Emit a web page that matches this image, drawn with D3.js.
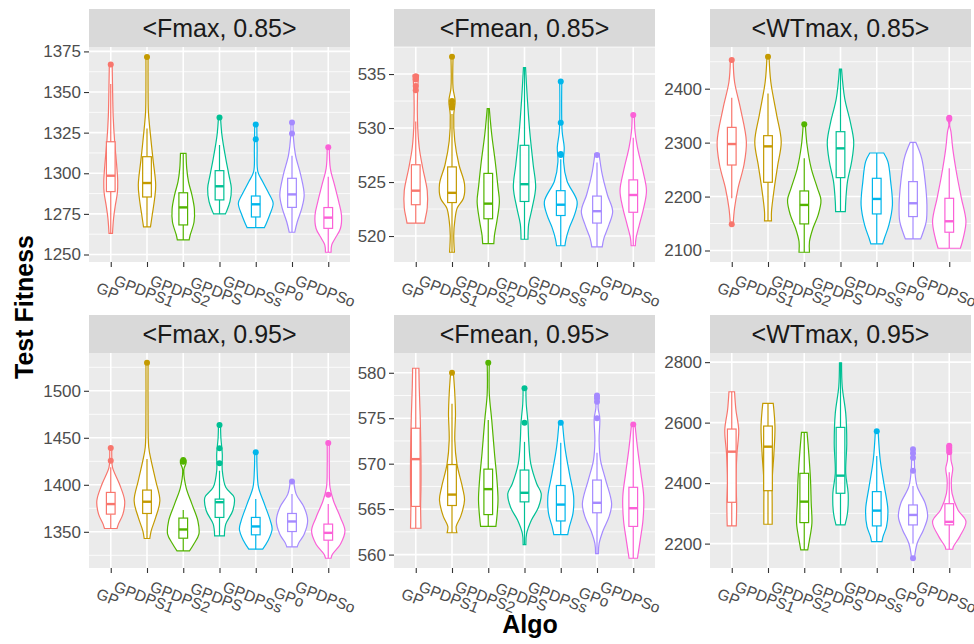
<!DOCTYPE html>
<html lang="en">
<head>
<meta charset="UTF-8">
<title>Test Fitness by Algo</title>
<script src="https://cdn.jsdelivr.net/npm/d3@7"></script>
<style>
    body { margin: 0; background: #fff; }
    svg text { font-family: "Liberation Sans", Arial, Helvetica, sans-serif; }
</style>
</head>
<body>
<div id="chart"></div>
<script>
// ---- data ----
var algos = ["GP", "GPDPS1", "GPDPS2", "GPDPS", "GPDPSs", "GPo", "GPDPSo"];
var colors = ["#F8766D", "#C49A00", "#53B400", "#00C094", "#00B6EB", "#A58AFF", "#FB61D7"];
var facetTitles = ["<Fmax, 0.85>", "<Fmean, 0.85>", "<WTmax, 0.85>",
                   "<Fmax, 0.95>", "<Fmean, 0.95>", "<WTmax, 0.95>"];
var yTicks = [
    [1250, 1275, 1300, 1325, 1350, 1375],
    [520, 525, 530, 535],
    [2100, 2200, 2300, 2400],
    [1350, 1400, 1450, 1500],
    [560, 565, 570, 575, 580],
    [2200, 2400, 2600, 2800]
];

// violin outlines: [value, relative density] from bottom to top
var fmax85Violin = [
    [[1263,5],[1272,8],[1280,13],[1288,19],[1295,20],[1305,17],[1320,11],[1335,7],[1355,5],[1367.6,4]],
    [[1267,10],[1274.3,15],[1284.6,22],[1292.8,25],[1309,17],[1327.6,8],[1338,4],[1355,3],[1371.7,3]],
    [[1259,17],[1262,20],[1270,31],[1278,32],[1286.6,25],[1294.8,15],[1303,10],[1312.3,8]],
    [[1275,17],[1276.4,20],[1282.5,30],[1290.7,34],[1299,27],[1309,18],[1323.5,7],[1334.4,3]],
    [[1266.6,25],[1268,28],[1274.3,40],[1281.5,50],[1286.6,40],[1294.8,20],[1301,6],[1315,4],[1330,3]],
    [[1263.7,8],[1270,15],[1278.4,28],[1286.6,35],[1299,25],[1311.2,10],[1322,4],[1331.3,3]],
    [[1251.4,8],[1255.9,10],[1260,20],[1266,35],[1274.3,38],[1282.5,30],[1292.8,18],[1303,6],[1316,3]]
];
// boxes: [lower whisker, q1, median, q3, upper whisker]
var fmax85Box = [
    [1263, 1288.7, 1298.5, 1319.4, 1355],
    [1267, 1285.4, 1294, 1310.2, 1327.6],
    [1259, 1268.2, 1279, 1288, 1312],
    [1275, 1283.6, 1292, 1301.6, 1317.4],
    [1266.6, 1273.1, 1280.9, 1286, 1301],
    [1263.7, 1279, 1287, 1296.9, 1310.8],
    [1251.4, 1266.1, 1272.7, 1278.9, 1297.9]
];
var fmax85Out = [[1367], [1371.5], [], [1334.4], [1320.9, 1330], [1324.5, 1331.3], [1316]];

var fmean85Violin = [
    [[521.2,25],[521.7,28],[522.6,33],[524.2,33],[526.3,20],[528.2,10],[530.6,5],[533.1,5],[534.9,8]],
    [[518.5,7],[520.1,5],[521.4,8],[522.6,15],[523.5,33],[524.8,36],[526.6,20],[528.8,8],[531.2,5],[532.5,9],[533.7,3],[536.6,3]],
    [[519.3,16],[520.1,18],[521.4,25],[523.2,32],[524.5,28],[526.9,20],[529.4,10],[531.8,3]],
    [[519.7,10],[521.1,12],[522.6,22],[524.5,32],[526.6,25],[529.7,15],[532.8,8],[535.6,3]],
    [[519.1,12],[519.7,15],[520.8,25],[522,40],[523.2,47],[525.1,18],[526.9,8],[528.2,10],[529.7,4],[534.3,3]],
    [[519,15],[519.8,20],[521.1,35],[522.3,45],[523.8,30],[525.7,15],[527.6,6]],
    [[519.1,6],[519.8,8],[521.1,18],[522.6,30],[524.2,38],[526,28],[528.2,12],[529.7,5],[531.2,3]]
];
var fmean85Box = [
    [521.2, 522.9, 524.2, 526.6, 530.6],
    [518.5, 523.1, 524.0, 526.4, 531.3],
    [519.3, 521.6, 523.0, 525.8, 531.8],
    [519.7, 523.2, 524.8, 528.4, 535.6],
    [519.1, 521.9, 522.9, 524.2, 527.1],
    [519.0, 521.2, 522.3, 523.7, 526.8],
    [519.1, 522.2, 523.8, 525.2, 529.1]
];
var fmean85Out = [[533.5, 533.9, 534.5, 534.8], [531.9, 532.2, 532.5, 536.6], [], [],
                  [527.5, 527.6, 530.5, 534.3], [527.5], [531.2]];

var wtmax85Violin = [
    [[2148.7,4],[2178.3,8],[2215.3,18],[2258.5,35],[2301.8,42],[2363.5,25],[2412.9,8],[2453,4]],
    [[2154.8,10],[2172,10],[2215.3,18],[2258.5,28],[2301.8,38],[2351.1,25],[2412.9,8],[2459.2,3]],
    [[2096.8,15],[2116.6,15],[2141.3,25],[2166,40],[2193.7,48],[2215.3,38],[2252.4,20],[2295.6,8],[2333.9,3]],
    [[2172.1,14],[2190.6,15],[2227.7,20],[2264.7,32],[2301.8,38],[2338.8,28],[2382,12],[2436.3,3]],
    [[2112.3,17],[2122.7,22],[2147.4,35],[2184.5,45],[2227.7,40],[2264.7,32],[2280.8,20]],
    [[2121.5,22],[2132,28],[2153.6,38],[2184.5,40],[2227.7,35],[2270.9,25],[2300.5,8]],
    [[2104.2,32],[2122.7,40],[2153.6,48],[2196.8,35],[2240,22],[2289.4,10],[2320,5],[2333,1],[2346.2,5]]
];
var wtmax85Box = [
    [2196.8, 2258.5, 2297.4, 2328.3, 2383.2],
    [2154.8, 2226.5, 2293.1, 2312.9, 2391.3],
    [2096.8, 2149.3, 2184.5, 2210.4, 2270.9],
    [2172.1, 2235.1, 2289.4, 2320.3, 2436.3],
    [2112.3, 2167.8, 2195.6, 2233.9, 2280.8],
    [2121.5, 2162.9, 2187.6, 2227.7, 2300.5],
    [2104.2, 2133.9, 2154.2, 2196.8, 2252.4]
];
var wtmax85Out = [[2148.7, 2453], [2459.2], [2333.9], [], [], [], [2344, 2346.2]];

var fmax95Violin = [
    [[1353.5,18],[1358.2,22],[1368.8,35],[1383,40],[1400.8,25],[1418.6,5],[1430,3],[1439.2,3]],
    [[1342.9,8],[1351,12],[1365.3,25],[1383,37],[1404.4,25],[1425.7,12],[1439.9,5],[1480,3],[1529.8,3]],
    [[1329.7,18],[1336.8,30],[1347.5,45],[1361.7,42],[1379.5,25],[1397.3,8],[1416.8,2],[1423,8],[1426.4,8]],
    [[1345.7,14],[1358.2,18],[1372.4,38],[1386.6,42],[1397.3,18],[1415,8],[1432.8,8],[1450,4],[1463.7,3]],
    [[1331.5,20],[1340.4,35],[1352.8,47],[1361.7,42],[1379.5,25],[1397.3,8],[1415,4],[1434.6,3]],
    [[1334,15],[1338.6,20],[1347.5,35],[1361.7,45],[1375.9,35],[1390.1,12],[1403.6,5]],
    [[1321.9,8],[1326.2,12],[1336.8,35],[1351,48],[1365.3,35],[1383,15],[1397.3,5],[1420,3],[1444.5,3]]
];
var fmax95Box = [
    [1353.5, 1368.8, 1379.5, 1391.9, 1418.6],
    [1342.9, 1369.5, 1382, 1394.4, 1427.5],
    [1329.7, 1343.2, 1352.5, 1364.6, 1373.1],
    [1345.7, 1365.3, 1381.5, 1384.8, 1415],
    [1331.5, 1346.8, 1355.7, 1365.3, 1384.8],
    [1334, 1350.3, 1361, 1369.5, 1390.1],
    [1321.9, 1341.1, 1348.9, 1358.2, 1379.5]
];
var fmax95Out = [[1425.7, 1439.2], [1529.8], [1424.5, 1426.4], [1422.8, 1438.8, 1463.7],
                 [1434.6], [1403.6], [1389.4, 1444.5]];

var fmean95Violin = [
    [[562.9,15],[565.3,14],[567.4,15],[570.4,15],[574.8,13],[578.4,10],[580.5,9]],
    [[562.4,14],[563.1,12],[564.2,25],[566,36],[567.4,30],[570,14],[572.6,8],[575.5,10],[577.7,8],[580,4]],
    [[563.1,22],[564.2,25],[566,28],[568.2,25],[571.1,18],[574.8,10],[577.7,3],[581.1,3]],
    [[561.1,4],[562.3,6],[563.8,20],[565.2,40],[566.7,48],[567.8,35],[570,18],[572.6,12],[574.5,10],[576.6,5],[578.3,4]],
    [[562.2,20],[563.1,25],[564.5,35],[566.4,37],[568.9,25],[571.8,12],[574.5,5]],
    [[560.1,4],[561.2,6],[562.7,18],[564.2,35],[565.6,42],[568.2,25],[570.4,10],[572.6,6],[575,8],[576.2,3],[577.5,6]],
    [[559.6,12],[561.6,20],[563.8,28],[566.4,30],[568.9,22],[571.8,12],[574.3,5]]
];
var fmean95Box = [
    [562.9, 565.3, 570.5, 573.9, 580.5],
    [562.4, 565.4, 566.6, 569.9, 576.6],
    [563.1, 564.4, 567.2, 569.4, 574.8],
    [561.1, 565.8, 566.8, 569.3, 572.4],
    [562.2, 563.7, 565.5, 567.6, 572.3],
    [560.1, 564.6, 565.7, 568.2, 571.2],
    [559.6, 563.1, 565.1, 567.4, 574.0]
];
var fmean95Out = [[], [580], [581.1], [574.5, 578.3], [574.5], [575, 576.8, 577.2, 577.5], [574.3]];

var wtmax95Violin = [
    [[2258.5,13],[2333.3,14],[2410.4,12],[2498.4,15],[2575.5,20],[2641.6,12],[2702.1,8]],
    [[2264,12],[2333.3,12],[2410.4,12],[2498.4,17],[2586.5,20],[2663.6,15]],
    [[2179.2,10],[2212.2,15],[2267.3,22],[2333.3,20],[2410.4,18],[2498.4,13],[2567.8,8]],
    [[2261.8,13],[2300.3,20],[2366.4,22],[2432.4,15],[2531.5,18],[2630.6,15],[2718.6,5],[2797.9,3]],
    [[2206.7,15],[2223.2,18],[2256.3,28],[2311.3,32],[2388.4,22],[2476.4,10],[2571.1,4]],
    [[2151.7,4],[2201.2,12],[2245.3,30],[2289.3,42],[2333.3,35],[2388.4,12],[2443.4,5],[2480,4],[2511.7,5]],
    [[2181.4,10],[2190.2,12],[2223.2,30],[2272.8,48],[2311.3,25],[2366.4,8],[2410.4,6],[2448.9,10],[2476.4,5],[2523.8,6]]
];
var wtmax95Box = [
    [2258.5, 2336.6, 2504, 2578.8, 2702.1],
    [2264, 2375, 2520.5, 2588.7, 2663.6],
    [2179.2, 2269.5, 2338.8, 2432.4, 2567.8],
    [2261.8, 2366.4, 2424.7, 2584.3, 2797.9],
    [2206.7, 2258.5, 2309.1, 2371.9, 2489.6],
    [2200, 2261.8, 2294.8, 2327.8, 2390.6],
    [2181.4, 2262, 2272, 2332, 2435.7]
];
var wtmax95Out = [[], [], [], [], [2571.1], [2151.7, 2441.2, 2484.1, 2498.4, 2511.7],
                  [2501.8, 2509.5, 2517.2, 2523.8]];

var facets = [
    {violin: fmax85Violin, box: fmax85Box, out: fmax85Out},
    {violin: fmean85Violin, box: fmean85Box, out: fmean85Out},
    {violin: wtmax85Violin, box: wtmax85Box, out: wtmax85Out},
    {violin: fmax95Violin, box: fmax95Box, out: fmax95Out},
    {violin: fmean95Violin, box: fmean95Box, out: fmean95Out},
    {violin: wtmax95Violin, box: wtmax95Box, out: wtmax95Out}
];

// ---- layout ----
var width = 974, height = 644;
var colX = [89, 394, 710], rowY = [9, 315];
var panelW = 261, panelH = 215, stripH = 38;

var svg = d3.select("#chart").append("svg")
    .attr("width", width).attr("height", height);

var x = d3.scalePoint().domain(algos).range([0, panelW]).padding(0.6);
var step = x.step();
var wScale = d3.scaleLinear().domain([0, 50]).range([0, 0.48 * step]);
var boxHalf = 0.12 * step;

facets.forEach(function (f, i) {
    var col = i % 3, row = Math.floor(i / 3);
    var px = colX[col], sy = rowY[row], py = sy + stripH;

    // strip
    svg.append("rect").attr("x", px).attr("y", sy)
        .attr("width", panelW).attr("height", stripH).attr("fill", "#D9D9D9");
    svg.append("text").attr("x", px + panelW / 2).attr("y", sy + stripH / 2)
        .attr("dy", "0.36em").attr("text-anchor", "middle")
        .attr("font-size", 25).attr("fill", "#1A1A1A")
        .text(facetTitles[i]);

    var g = svg.append("g").attr("transform", "translate(" + px + "," + py + ")");
    g.append("rect").attr("width", panelW).attr("height", panelH).attr("fill", "#EBEBEB");

    // y scale from data extent, 5% expansion
    var vals = [];
    f.violin.forEach(function (v) { v.forEach(function (d) { vals.push(d[0]); }); });
    f.out.forEach(function (o) { vals = vals.concat(o); });
    var ext = d3.extent(vals), pad = (ext[1] - ext[0]) * 0.05;
    var y = d3.scaleLinear().domain([ext[0] - pad, ext[1] + pad]).range([panelH, 0]);
    var dom = y.domain();

    var ticks = yTicks[i];
    var tstep = ticks[1] - ticks[0];
    var minor = d3.range(ticks[0] - tstep / 2, ticks[ticks.length - 1] + tstep, tstep)
        .filter(function (v) { return v >= dom[0] && v <= dom[1]; });

    g.selectAll(".minor").data(minor).enter().append("line")
        .attr("x1", 0).attr("x2", panelW)
        .attr("y1", function (d) { return y(d); }).attr("y2", function (d) { return y(d); })
        .attr("stroke", "#fff").attr("stroke-width", 0.8);
    g.selectAll(".major").data(ticks).enter().append("line")
        .attr("x1", 0).attr("x2", panelW)
        .attr("y1", function (d) { return y(d); }).attr("y2", function (d) { return y(d); })
        .attr("stroke", "#fff").attr("stroke-width", 1.6);
    g.selectAll(".vgrid").data(algos).enter().append("line")
        .attr("x1", function (d) { return x(d); }).attr("x2", function (d) { return x(d); })
        .attr("y1", 0).attr("y2", panelH)
        .attr("stroke", "#fff").attr("stroke-width", 1.6);

    // violins
    f.violin.forEach(function (v, k) {
        var cx = x(algos[k]);
        var area = d3.area()
            .y(function (d) { return y(d[0]); })
            .x0(function (d) { return cx - wScale(d[1]); })
            .x1(function (d) { return cx + wScale(d[1]); })
            .curve(d3.curveCatmullRom.alpha(0.5));
        g.append("path").attr("d", area(v))
            .attr("fill", "#fff").attr("stroke", colors[k]).attr("stroke-width", 1.2);
    });

    // boxplots
    f.box.forEach(function (b, k) {
        var cx = x(algos[k]), c = colors[k];
        g.append("line").attr("x1", cx).attr("x2", cx)
            .attr("y1", y(b[3])).attr("y2", y(b[4]))
            .attr("stroke", c).attr("stroke-width", 1.2);
        g.append("line").attr("x1", cx).attr("x2", cx)
            .attr("y1", y(b[1])).attr("y2", y(b[0]))
            .attr("stroke", c).attr("stroke-width", 1.2);
        g.append("rect").attr("x", cx - boxHalf).attr("width", 2 * boxHalf)
            .attr("y", y(b[3])).attr("height", y(b[1]) - y(b[3]))
            .attr("fill", "#fff").attr("stroke", c).attr("stroke-width", 1.2);
        g.append("line").attr("x1", cx - boxHalf).attr("x2", cx + boxHalf)
            .attr("y1", y(b[2])).attr("y2", y(b[2]))
            .attr("stroke", c).attr("stroke-width", 2.4);
        g.selectAll(null).data(f.out[k]).enter().append("circle")
            .attr("cx", cx).attr("cy", function (d) { return y(d); })
            .attr("r", 3).attr("fill", c);
    });

    // axes
    var ya = g.append("g").call(d3.axisLeft(y).tickValues(ticks)
        .tickFormat(d3.format("d")).tickSize(5).tickPadding(3));
    ya.select(".domain").remove();
    ya.selectAll("line").attr("stroke", "#333").attr("stroke-width", 1.1);
    ya.selectAll("text").attr("font-size", 17).attr("fill", "#4D4D4D")
        .attr("font-family", null);

    var xa = g.append("g").attr("transform", "translate(0," + panelH + ")")
        .call(d3.axisBottom(x).tickSize(5));
    xa.select(".domain").remove();
    xa.selectAll("line").attr("stroke", "#333").attr("stroke-width", 1.1);
    xa.selectAll("text").attr("font-size", 15.5).attr("fill", "#4D4D4D")
        .attr("font-family", null)
        .attr("y", 0).attr("dy", "0.35em").attr("text-anchor", "middle")
        .attr("transform", "translate(-3.5,29) rotate(21)");
});

// axis titles
svg.append("text").attr("transform", "translate(33,307) rotate(-90)")
    .attr("text-anchor", "middle").attr("font-size", 25).attr("font-weight", "bold")
    .attr("fill", "#000").text("Test Fitness");
svg.append("text").attr("x", 530).attr("y", 633)
    .attr("text-anchor", "middle").attr("font-size", 25).attr("font-weight", "bold")
    .attr("fill", "#000").text("Algo");
</script>
</body>
</html>
